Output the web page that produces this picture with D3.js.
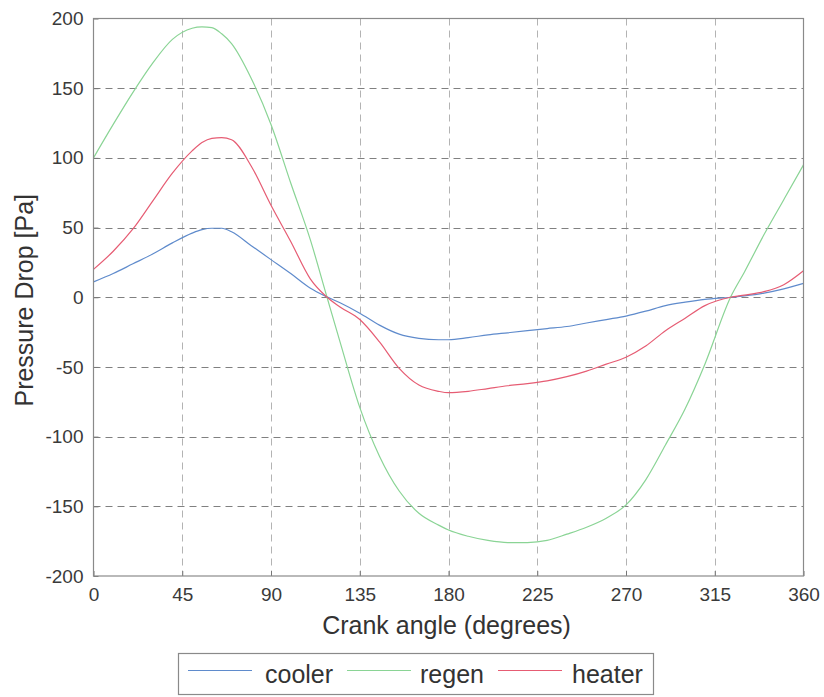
<!DOCTYPE html>
<html>
<head>
<meta charset="utf-8">
<script src="https://cdn.jsdelivr.net/npm/d3@7"></script>
<style>
  html, body { margin: 0; padding: 0; background: #fff; }
  svg { display: block; font-family: "Liberation Sans", Arial, Helvetica, sans-serif; }
</style>
</head>
<body>
<svg id="chart" width="824" height="697"></svg>
<script>
// Crank angle samples (degrees) shared by all three series
const angles = [0, 10, 20, 30, 40, 50, 55, 60, 65, 70, 80, 90, 100, 110, 118, 125, 135, 145, 155, 165, 175, 180,
                190, 200, 210, 220, 230, 240, 250, 260, 270, 280, 290, 300, 310, 323, 330, 340, 350, 360];

// Pressure drop per heat exchanger section [Pa]
const cooler = [11, 17, 24, 31, 39, 46, 48.5, 49.5, 49.5, 47, 37, 27, 17, 6.5, 0.5, -4, -11.5, -20, -26.5, -29.5, -30.5, -30.5,
                -29, -27, -25.5, -24, -22.5, -21, -18.5, -16, -13.5, -10, -6, -3.5, -1.5, 0, 1, 3, 6, 10];
const regen  = [100, 124, 147, 168, 185, 193, 194, 193.5, 189, 182, 157, 124, 82, 41, 2, -32, -79, -114, -139, -155, -163.5, -167,
                -171.5, -174.5, -176, -176, -174.5, -170, -165, -158.5, -149, -131, -106, -80, -48, 0, 18, 45, 70, 95];
const heater = [20, 33, 49, 69, 89, 105, 111, 114, 114.5, 113, 94, 66, 40, 13, 0.5, -7, -16, -32, -51, -63, -67.5, -68.5,
                -67.5, -65.5, -63.5, -62, -60, -57, -53, -48, -43, -35, -24, -15, -6, 0, 1.5, 4, 9, 19];

// Axis ticks
const xTicks = [0, 45, 90, 135, 180, 225, 270, 315, 360];
const yTicks = [-200, -150, -100, -50, 0, 50, 100, 150, 200];

const seriesNames = ["cooler", "regen", "heater"];
const seriesValues = [cooler, regen, heater];
const seriesColors = ["#5f8bcc", "#8ad495", "#e65c73"];

const svg = d3.select("#chart");
const plot = { left: 93.5, right: 803.5, top: 18.5, bottom: 576 };

const x = d3.scaleLinear().domain([0, 360]).range([plot.left, plot.right]);
const y = d3.scaleLinear().domain([-200, 200]).range([plot.bottom, plot.top]);

// Plot background
svg.append("rect")
  .attr("x", plot.left).attr("y", plot.top)
  .attr("width", plot.right - plot.left).attr("height", plot.bottom - plot.top)
  .attr("fill", "#fff");

// Dashed grid
const grid = svg.append("g").attr("stroke", "#808080").attr("stroke-width", 1)
  .attr("stroke-dasharray", "7,5").attr("fill", "none");
grid.selectAll("line.v").data(xTicks.slice(1, -1)).join("line")
  .attr("class", "v")
  .attr("x1", d => Math.round(x(d)) + 0.5).attr("x2", d => Math.round(x(d)) + 0.5)
  .attr("y1", plot.top).attr("y2", plot.bottom)
  .attr("stroke-opacity", 0.6);
grid.selectAll("line.h").data(yTicks.slice(1, -1)).join("line")
  .attr("class", "h")
  .attr("x1", plot.left).attr("x2", plot.right)
  .attr("y1", d => Math.round(y(d)) + 0.5).attr("y2", d => Math.round(y(d)) + 0.5);

// Series lines
const line = d3.line()
  .x((d, i) => x(angles[i]))
  .y(d => y(d))
  .curve(d3.curveMonotoneX);

svg.append("g").selectAll("path").data(seriesValues).join("path")
  .attr("d", d => line(d))
  .attr("fill", "none")
  .attr("stroke", (d, i) => seriesColors[i])
  .attr("stroke-width", 1.2);

// Axes with inward ticks; plain hyphen for negative labels
const fmt = d => String(d);
const xAxis = d3.axisBottom(x).tickValues(xTicks).tickFormat(fmt).tickSizeInner(-5).tickSizeOuter(0).tickPadding(12);
const yAxis = d3.axisLeft(y).tickValues(yTicks).tickFormat(fmt).tickSizeInner(-5).tickSizeOuter(0).tickPadding(10);

const gx = svg.append("g").attr("transform", `translate(0,${plot.bottom})`).call(xAxis);
const gy = svg.append("g").attr("transform", `translate(${plot.left},0)`).call(yAxis);

[gx, gy].forEach(g => {
  g.select(".domain").remove();
  g.selectAll(".tick line").attr("stroke", "#777");
  g.selectAll(".tick text").attr("fill", "#3a3a3a").style("font-size", "19px")
    .style("font-family", "'Liberation Sans', Arial, sans-serif");
});
gx.selectAll(".tick text").attr("dy", "0.71em");

// Box around the plot
svg.append("rect")
  .attr("x", plot.left).attr("y", plot.top)
  .attr("width", plot.right - plot.left).attr("height", plot.bottom - plot.top)
  .attr("fill", "none").attr("stroke", "#8a8a8a").attr("stroke-width", 1.2);

// Axis titles
svg.append("text")
  .attr("x", (plot.left + plot.right) / 2 - 2).attr("y", 634)
  .attr("text-anchor", "middle")
  .attr("fill", "#333").style("font-size", "25px")
  .text("Crank angle (degrees)");

svg.append("text")
  .attr("transform", `translate(33,${(plot.top + plot.bottom) / 2 + 3}) rotate(-90)`)
  .attr("text-anchor", "middle")
  .attr("fill", "#333").style("font-size", "25px")
  .text("Pressure Drop [Pa]");

// Legend
const legend = svg.append("g");
legend.append("rect")
  .attr("x", 178.5).attr("y", 653.5).attr("width", 475).attr("height", 41)
  .attr("fill", "#fff").attr("stroke", "#8a8a8a").attr("stroke-width", 1.2);

const legendItems = [
  { lineX: 188, textX: 265 },
  { lineX: 347, textX: 420 },
  { lineX: 498, textX: 572 }
];
legend.selectAll("g.item").data(seriesNames).join("g")
  .attr("class", "item")
  .each(function (name, i) {
    const g = d3.select(this);
    const pos = legendItems[i];
    g.append("line")
      .attr("x1", pos.lineX).attr("x2", pos.lineX + 64)
      .attr("y1", 670.5).attr("y2", 670.5)
      .attr("stroke", seriesColors[i]).attr("stroke-width", 1.2);
    g.append("text")
      .attr("x", pos.textX).attr("y", 683)
      .attr("fill", "#333").style("font-size", "25px")
      .text(name);
  });
</script>
</body>
</html>
